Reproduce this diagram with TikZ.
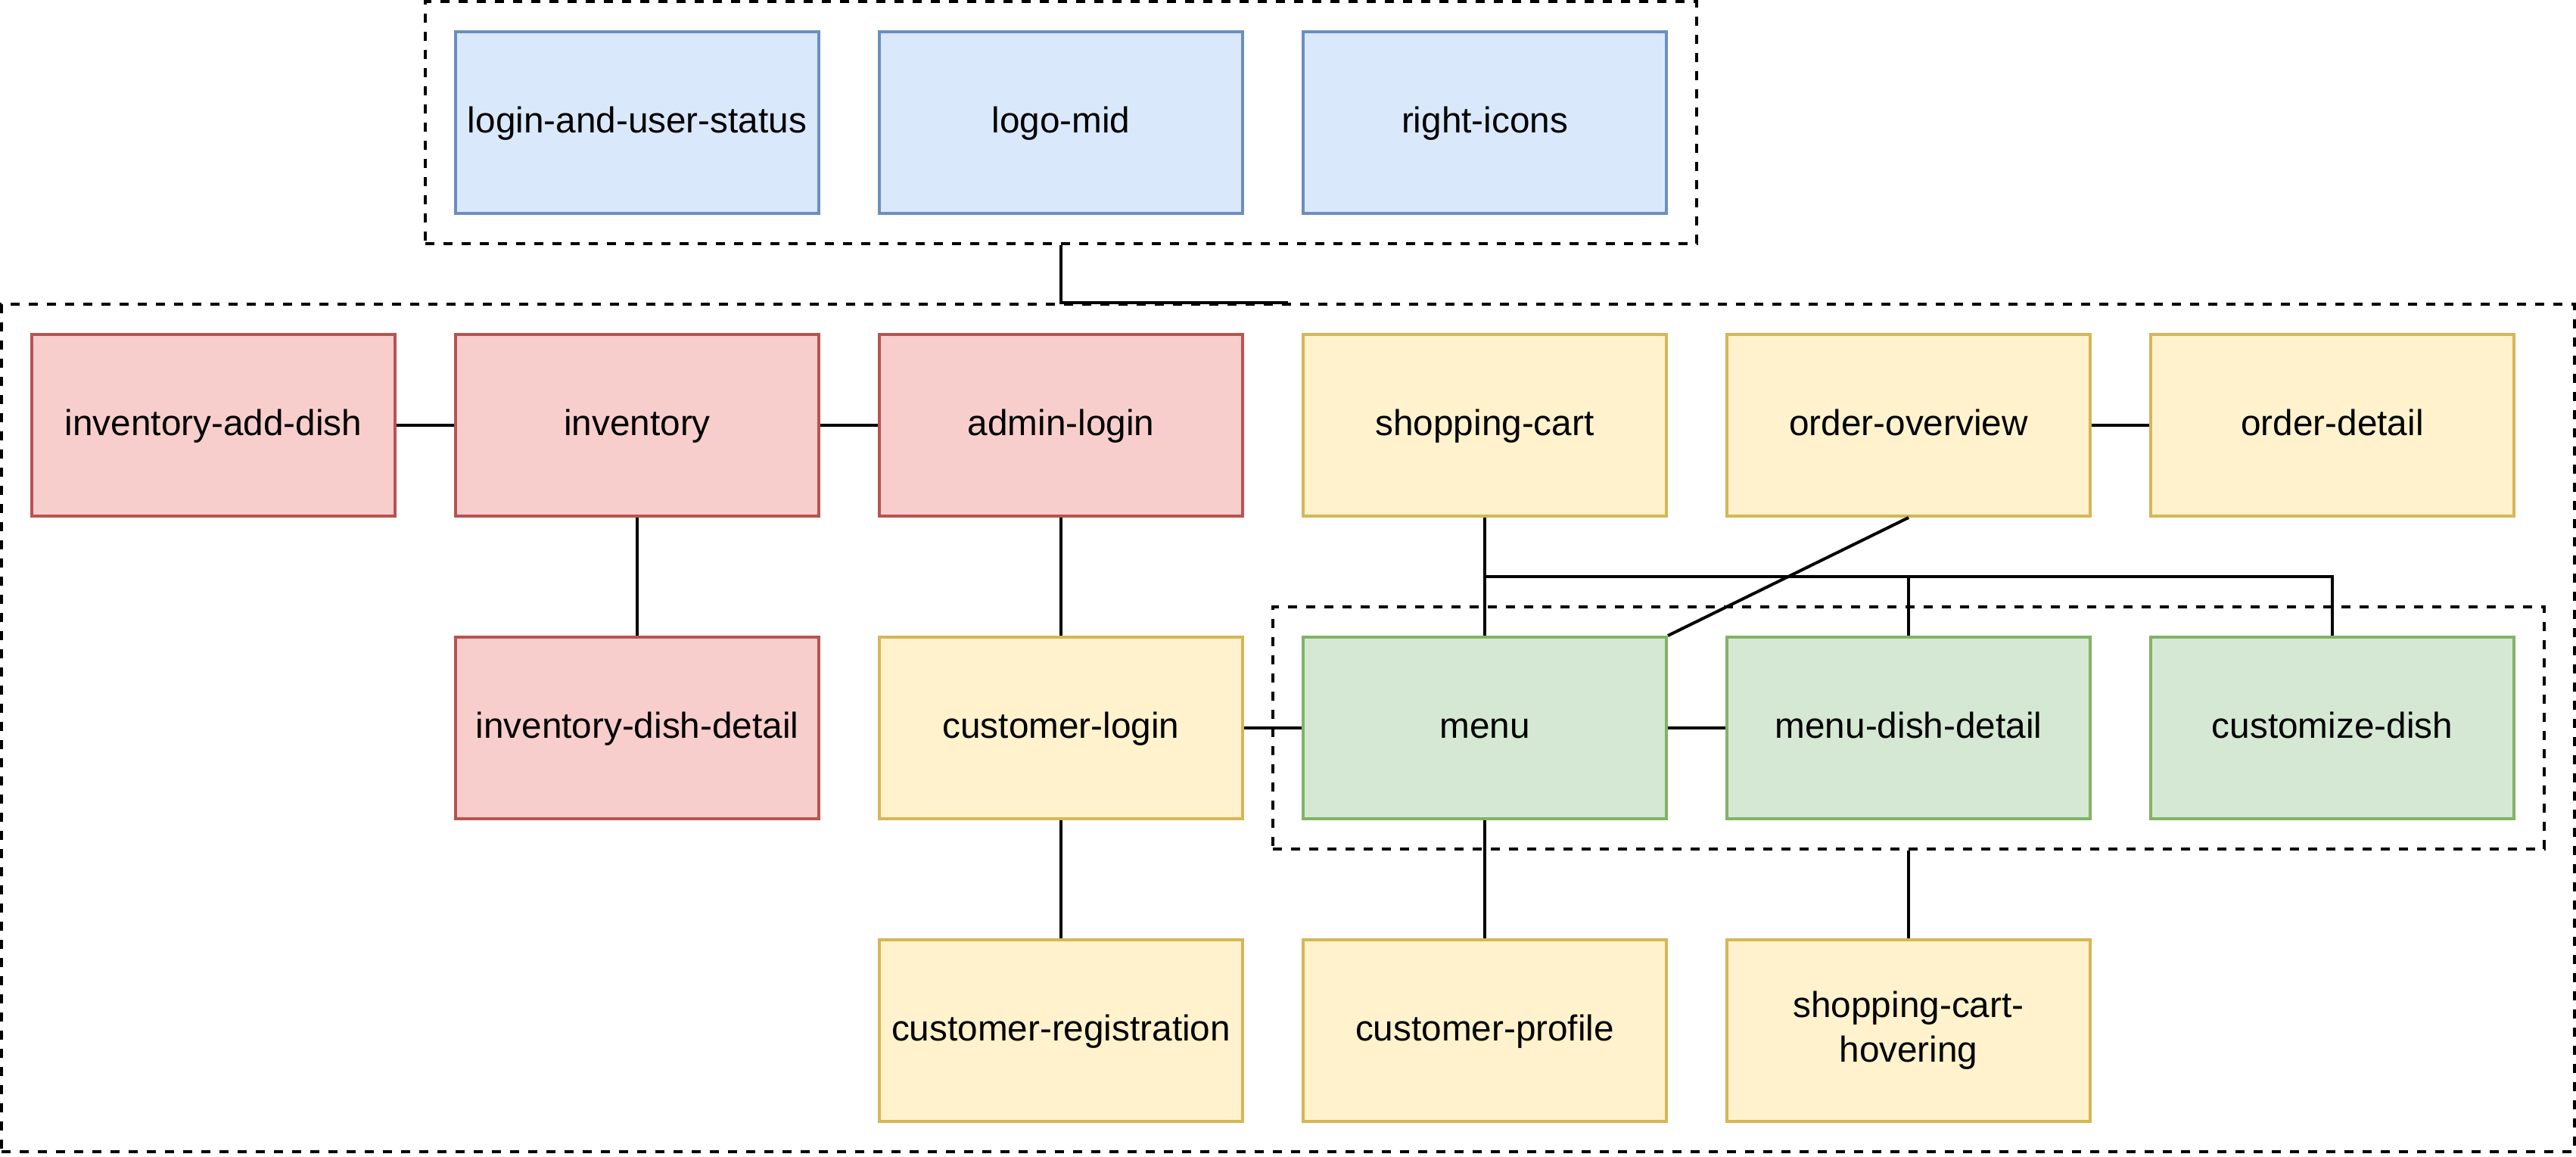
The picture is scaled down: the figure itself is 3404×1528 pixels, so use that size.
\documentclass[tikz,border=0pt]{standalone}
\usepackage{fontspec}
\setmainfont{Liberation Sans}
\definecolor{bluefill}{HTML}{DAE8FC}\definecolor{bluedraw}{HTML}{6C8EBF}
\definecolor{redfill}{HTML}{F8CECC}\definecolor{reddraw}{HTML}{B85450}
\definecolor{yelfill}{HTML}{FFF2CC}\definecolor{yeldraw}{HTML}{D6B656}
\definecolor{grnfill}{HTML}{D5E8D4}\definecolor{grndraw}{HTML}{82B366}
\tikzset{
  box/.style={rectangle, line width=2pt, minimum width=240pt, minimum height=120pt,
    inner sep=0pt, align=center, text height=18pt, text depth=5pt,
    font=\fontsize{23.85}{29.5}\selectfont},
  bluebox/.style={box, fill=bluefill, draw=bluedraw},
  redbox/.style={box, fill=redfill, draw=reddraw},
  yelbox/.style={box, fill=yelfill, draw=yeldraw},
  grnbox/.style={box, fill=grnfill, draw=grndraw},
  grp/.style={rectangle, draw=black, line width=2pt, dash pattern=on 6pt off 6pt, inner sep=0pt},
  conn/.style={draw=black, line width=2pt}
}
\begin{document}
\begin{tikzpicture}[x=0.5pt,y=-0.5pt]
\useasboundingbox (0,0) rectangle (3404,1528);
% groups
\node[grp, minimum width=840pt, minimum height=160pt] (headergrp) at (1402,162) {};
\node[grp, minimum width=1700pt, minimum height=560pt] (maingrp) at (1702,962) {};
\node[grp, minimum width=840pt, minimum height=160pt] (menugrp) at (2522,962) {};
% header
\node[bluebox] (login) at (842,162) {login-and-user-status};
\node[bluebox] (logo) at (1402,162) {logo-mid};
\node[bluebox] (icons) at (1962,162) {right-icons};
% row 1
\node[redbox] (invadd) at (282,562) {inventory-add-dish};
\node[redbox] (inv) at (842,562) {inventory};
\node[redbox] (admin) at (1402,562) {admin-login};
\node[yelbox] (cart) at (1962,562) {shopping-cart};
\node[yelbox] (oover) at (2522,562) {order-overview};
\node[yelbox] (odet) at (3082,562) {order-detail};
% row 2
\node[redbox] (invdet) at (842,962) {inventory-dish-detail};
\node[yelbox] (clogin) at (1402,962) {customer-login};
\node[grnbox] (menu) at (1962,962) {menu};
\node[grnbox] (mdd) at (2522,962) {menu-dish-detail};
\node[grnbox] (cust) at (3082,962) {customize-dish};
% row 3
\node[yelbox] (creg) at (1402,1362) {customer-registration};
\node[yelbox] (cprof) at (1962,1362) {customer-profile};
\node[yelbox, text height=, text depth=] (hover) at (2522,1362) {shopping-cart-\\hovering};
% connectors
\draw[conn] (headergrp.south) |- (maingrp.north);
\draw[conn] (invadd) -- (inv);
\draw[conn] (inv) -- (admin);
\draw[conn] (oover) -- (odet);
\draw[conn] (inv) -- (invdet);
\draw[conn] (admin) -- (clogin);
\draw[conn] (clogin) -- (menu);
\draw[conn] (menu) -- (mdd);
\draw[conn] (clogin) -- (creg);
\draw[conn] (menu) -- (cprof);
\draw[conn] (menugrp.south) -- (hover.north);
\draw[conn] (cart) -- (menu);
\draw[conn] (cart.south) -- (cart.south |- 0,762) -| (mdd.north);
\draw[conn] (cart.south |- 0,762) -| (cust.north);
\draw[conn] (oover.south) -- (menu.north east);
\end{tikzpicture}
\end{document}
